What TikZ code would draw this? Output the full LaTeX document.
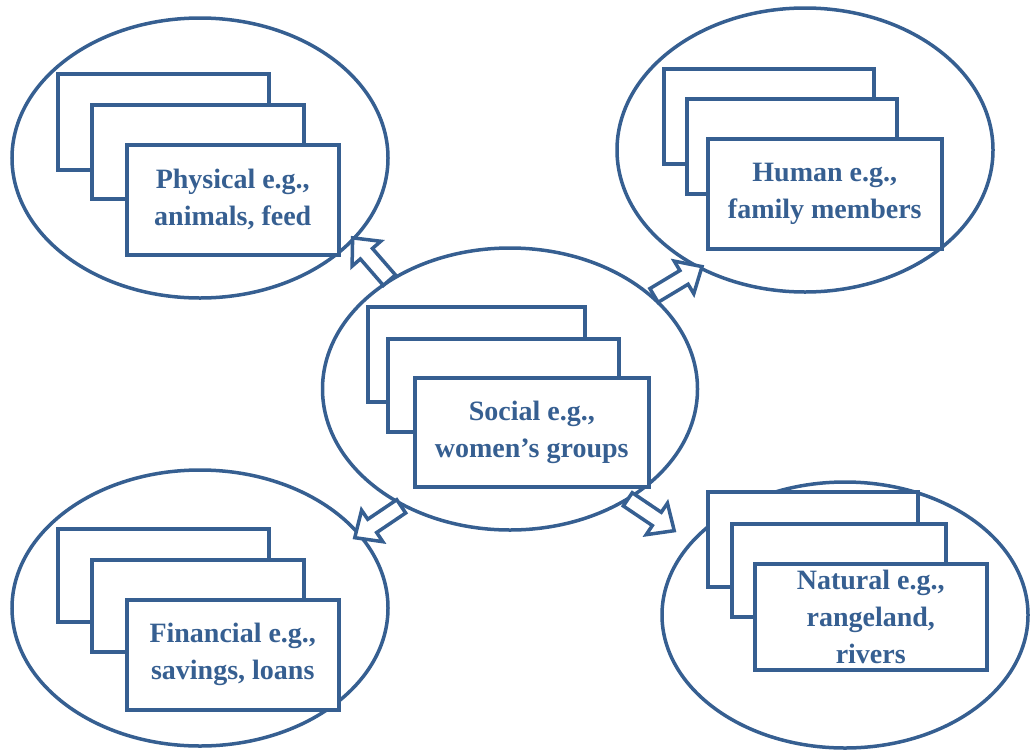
\documentclass[tikz,border=0pt]{standalone}
\usepackage{fontspec}
\setmainfont{Liberation Serif}
\usetikzlibrary{shapes.geometric}
\definecolor{cblue}{RGB}{54,95,145}
\newcommand{\blockarrow}[3]{%
  \coordinate (#1) at #2;
  \draw[blk,shift={(#1)},rotate=#3] (-28,-8) -- (7,-8) -- (7,-19) -- (28,0) -- (7,19) -- (7,8) -- (-28,8) -- cycle;}
\begin{document}
\begin{tikzpicture}[x=1pt,y=-1pt,
  ell/.style={ellipse,draw=cblue,line width=3.5pt,inner sep=0pt},
  card/.style={rectangle,draw=cblue,fill=white,line width=3.5pt,anchor=north west,inner sep=0pt,
     text=cblue,font=\bfseries\fontsize{28}{37}\selectfont,align=center},
  blk/.style={draw=cblue,fill=white,line width=3.5pt,line join=miter}]
\useasboundingbox (0,0) rectangle (1030,753);
% ellipses
\node[ell,minimum width=376pt,minimum height=280pt] (ephys) at (200,158) {};
\node[ell,minimum width=376pt,minimum height=284pt] (ehum) at (805,150) {};
\node[ell,minimum width=375pt,minimum height=282pt] (esoc) at (510,389) {};
\node[ell,minimum width=376pt,minimum height=276pt] (efin) at (200,608) {};
\node[ell,minimum width=366pt,minimum height=266pt] (enat) at (845,615) {};
% physical
\node[card,minimum width=211pt,minimum height=96pt] (p1) at (56,72) {};
\node[card,minimum width=212pt,minimum height=94pt] (p2) at (90,103) {};
\node[card,minimum width=212pt,minimum height=110pt] (p3) at (125,143) {Physical e.g.,\\animals, feed};
% human
\node[card,minimum width=210pt,minimum height=95pt] (h1) at (662,67) {};
\node[card,minimum width=210pt,minimum height=95pt] (h2) at (685,97) {};
\node[card,minimum width=234pt,minimum height=110pt] (h3) at (706,137) {Human e.g.,\\family members};
% social
\node[card,minimum width=217pt,minimum height=95pt] (s1) at (366,305) {};
\node[card,minimum width=231pt,minimum height=93pt] (s2) at (386,337) {};
\node[card,minimum width=234pt,minimum height=109pt] (s3) at (413,376) {Social e.g.,\\women’s groups};
% financial
\node[card,minimum width=211pt,minimum height=93pt] (f1) at (56,527) {};
\node[card,minimum width=212pt,minimum height=92pt] (f2) at (90,558) {};
\node[card,minimum width=212pt,minimum height=110pt] (f3) at (125,598) {Financial e.g.,\\savings, loans};
% natural
\node[card,minimum width=210pt,minimum height=95pt] (n1) at (706,490) {};
\node[card,minimum width=214pt,minimum height=93pt] (n2) at (730,522) {};
\node[card,minimum width=232pt,minimum height=106pt] (n3) at (753,562) {Natural e.g.,\\rangeland,\\rivers};
% block arrows
\blockarrow{atl}{(371,259)}{131}
\blockarrow{atr}{(678,281)}{31}
\blockarrow{abl}{(378,522)}{214}
\blockarrow{abr}{(651,515)}{-34}
\end{tikzpicture}
\end{document}
